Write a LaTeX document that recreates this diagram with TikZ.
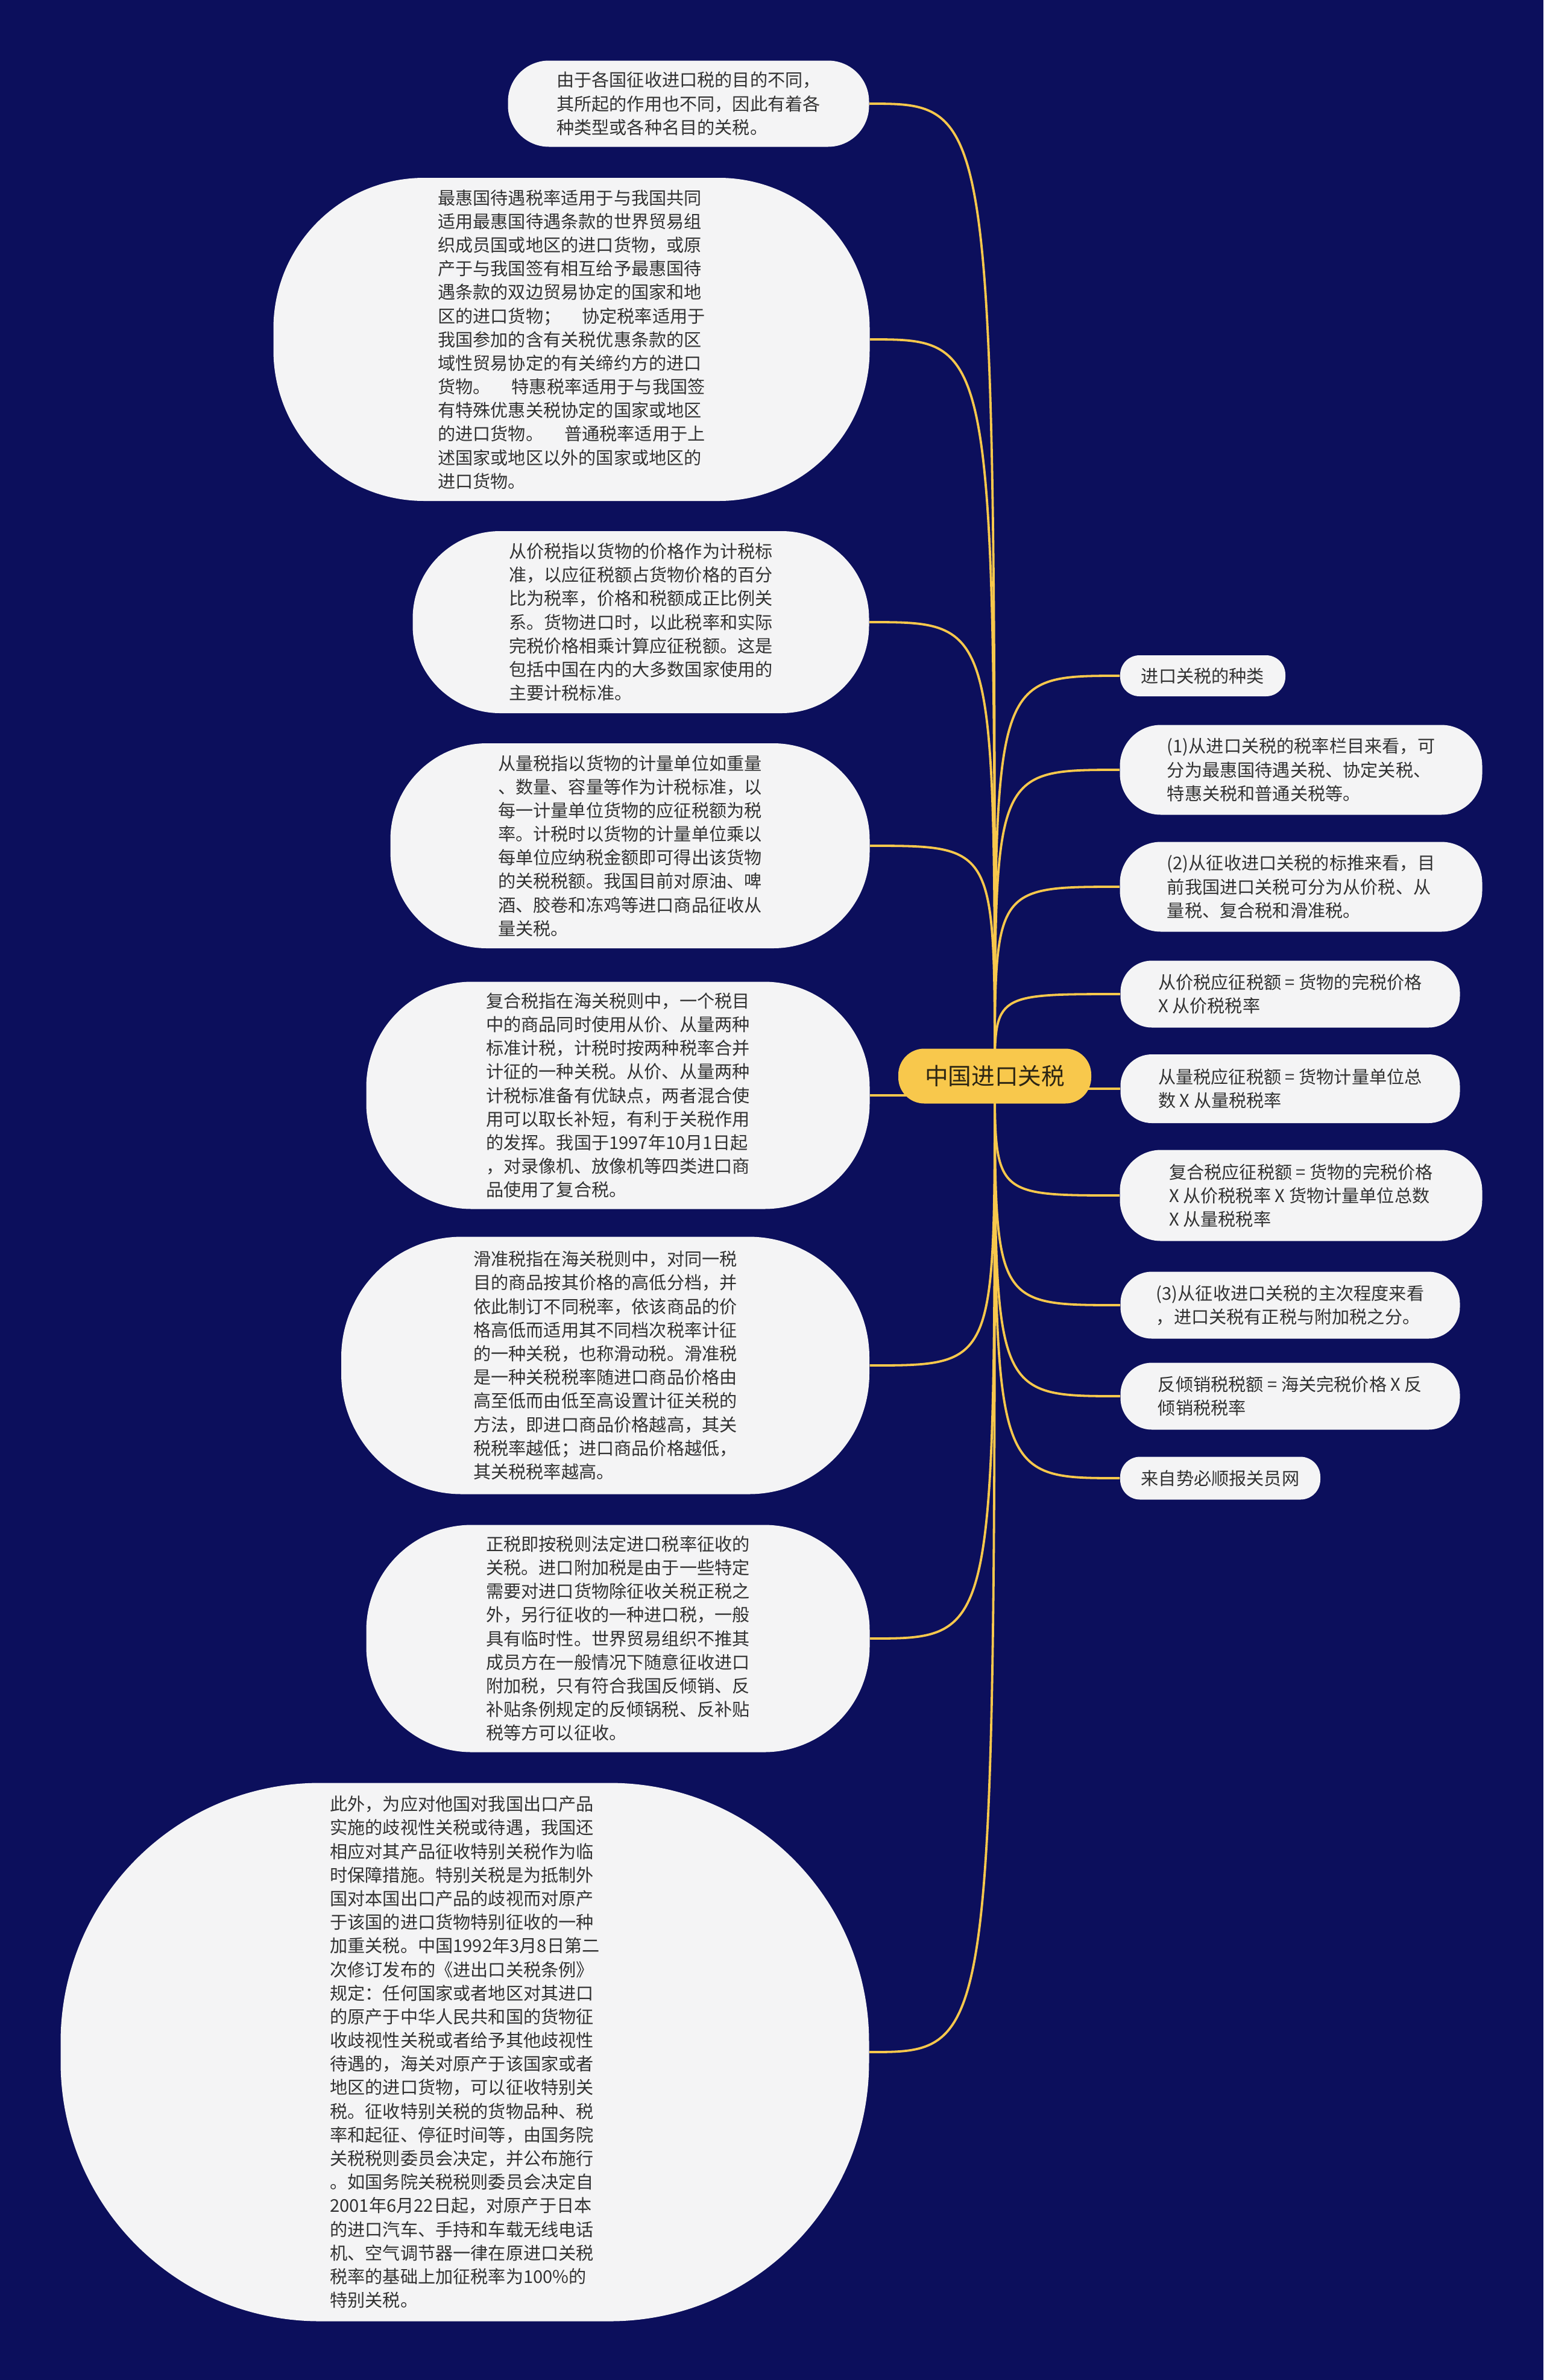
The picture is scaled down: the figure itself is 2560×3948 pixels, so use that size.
\documentclass[tikz,border=0pt]{standalone}
\usepackage{fontspec}
\setmainfont{Noto Sans CJK SC}
\pgfdeclarelayer{bg}
\pgfsetlayers{bg,main}
\definecolor{navy}{RGB}{12,15,92}
\definecolor{paper}{RGB}{244,244,245}
\definecolor{gold}{RGB}{248,200,76}
\definecolor{ink}{RGB}{50,50,50}
\definecolor{rootink}{RGB}{45,38,20}

\begin{document}
\begin{tikzpicture}[x=0.1mm, y=-0.1mm,
    note/.style={fill=paper, text=ink, align=left, inner sep=0pt,
        font=\fontsize{8.3pt}{11.15pt}\selectfont},
    rootbox/.style={fill=gold, text=rootink, inner sep=0pt,
        minimum width=32mm, minimum height=9.1mm, rounded corners=4.3mm,
        font=\fontsize{11pt}{13pt}\selectfont},
    branch/.style={draw=gold, line width=0.38mm,
        to path={.. controls (\tikztostart |- \tikztotarget) .. (\tikztotarget)}}]
    \useasboundingbox (0,0) rectangle (2560,3948);

    \node[rootbox] (root) at (1650,1785) {中国进口关税};

    % left side
    \node[note, minimum width=59.9mm, minimum height=14.3mm, rounded corners=6.8mm]
        (reason) at (1142,172) {由于各国征收进口税的目的不同，\\
        其所起的作用也不同，因此有着各\\
        种类型或各种名目的关税。};
    \node[note, minimum width=98.9mm, minimum height=53.6mm, rounded corners=25mm]
        (rates) at (948,563) {最惠国待遇税率适用于与我国共同\\
        适用最惠国待遇条款的世界贸易组\\
        织成员国或地区的进口货物，或原\\
        产于与我国签有相互给予最惠国待\\
        遇条款的双边贸易协定的国家和地\\
        区的进口货物；\hspace{1.2em}协定税率适用于\\
        我国参加的含有关税优惠条款的区\\
        域性贸易协定的有关缔约方的进口\\
        货物。\hspace{1.2em}特惠税率适用于与我国签\\
        有特殊优惠关税协定的国家或地区\\
        的进口货物。\hspace{1.2em}普通税率适用于上\\
        述国家或地区以外的国家或地区的\\
        进口货物。};
    \node[note, minimum width=75.7mm, minimum height=30.2mm, rounded corners=14.5mm]
        (advalorem) at (1063,1032) {从价税指以货物的价格作为计税标\\
        准，以应征税额占货物价格的百分\\
        比为税率，价格和税额成正比例关\\
        系。货物进口时，以此税率和实际\\
        完税价格相乘计算应征税额。这是\\
        包括中国在内的大多数国家使用的\\
        主要计税标准。};
    \node[note, minimum width=79.5mm, minimum height=34mm, rounded corners=16mm]
        (specific) at (1045,1403) {从量税指以货物的计量单位如重量\\
        、数量、容量等作为计税标准，以\\
        每一计量单位货物的应征税额为税\\
        率。计税时以货物的计量单位乘以\\
        每单位应纳税金额即可得出该货物\\
        的关税税额。我国目前对原油、啤\\
        酒、胶卷和冻鸡等进口商品征收从\\
        量关税。};
    \node[note, minimum width=83.5mm, minimum height=37.7mm, rounded corners=17.5mm]
        (compound) at (1025,1817) {复合税指在海关税则中，一个税目\\
        中的商品同时使用从价、从量两种\\
        标准计税，计税时按两种税率合并\\
        计征的一种关税。从价、从量两种\\
        计税标准备有优缺点，两者混合使\\
        用可以取长补短，有利于关税作用\\
        的发挥。我国于1997年10月1日起\\
        ，对录像机、放像机等四类进口商\\
        品使用了复合税。};
    \node[note, minimum width=87.6mm, minimum height=42.7mm, rounded corners=20mm]
        (sliding) at (1004,2265) {滑准税指在海关税则中，对同一税\\
        目的商品按其价格的高低分档，并\\
        依此制订不同税率，依该商品的价\\
        格高低而适用其不同档次税率计征\\
        的一种关税，也称滑动税。滑准税\\
        是一种关税税率随进口商品价格由\\
        高至低而由低至高设置计征关税的\\
        方法，即进口商品价格越高，其关\\
        税税率越低；进口商品价格越低，\\
        其关税税率越高。};
    \node[note, minimum width=83.5mm, minimum height=37.7mm, rounded corners=17.5mm]
        (surcharge) at (1025,2718) {正税即按税则法定进口税率征收的\\
        关税。进口附加税是由于一些特定\\
        需要对进口货物除征收关税正税之\\
        外，另行征收的一种进口税，一般\\
        具有临时性。世界贸易组织不推其\\
        成员方在一般情况下随意征收进口\\
        附加税，只有符合我国反倾销、反\\
        补贴条例规定的反倾锅税、反补贴\\
        税等方可以征收。};
    \node[note, minimum width=134.1mm, minimum height=89.3mm, rounded corners=43mm]
        (special) at (771,3404) {此外，为应对他国对我国出口产品\\
        实施的歧视性关税或待遇，我国还\\
        相应对其产品征收特别关税作为临\\
        时保障措施。特别关税是为抵制外\\
        国对本国出口产品的歧视而对原产\\
        于该国的进口货物特别征收的一种\\
        加重关税。中国1992年3月8日第二\\
        次修订发布的《进出口关税条例》\\
        规定：任何国家或者地区对其进口\\
        的原产于中华人民共和国的货物征\\
        收歧视性关税或者给予其他歧视性\\
        待遇的，海关对原产于该国家或者\\
        地区的进口货物，可以征收特别关\\
        税。征收特别关税的货物品种、税\\
        率和起征、停征时间等，由国务院\\
        关税税则委员会决定，并公布施行\\
        。如国务院关税税则委员会决定自\\
        2001年6月22日起，对原产于日本\\
        的进口汽车、手持和车载无线电话\\
        机、空气调节器一律在原进口关税\\
        税率的基础上加征税率为100\%的\\
        特别关税。};

    % right side
    \node[note, minimum width=27.4mm, minimum height=6.8mm, rounded corners=3.2mm]
        (kinds) at (1995,1121) {进口关税的种类};
    \node[note, minimum width=60.1mm, minimum height=14.9mm, rounded corners=6.8mm]
        (byrate) at (2158,1277) {(1)从进口关税的税率栏目来看，可\\
        分为最惠国待遇关税、协定关税、\\
        特惠关税和普通关税等。};
    \node[note, minimum width=60.1mm, minimum height=14.9mm, rounded corners=6.8mm]
        (bybasis) at (2158,1471) {(2)从征收进口关税的标推来看，目\\
        前我国进口关税可分为从价税、从\\
        量税、复合税和滑准税。};
    \node[note, minimum width=56.3mm, minimum height=11.1mm, rounded corners=5.2mm]
        (advformula) at (2140,1649) {从价税应征税额 = 货物的完税价格\\
        X 从价税税率};
    \node[note, minimum width=56.3mm, minimum height=11.4mm, rounded corners=5.2mm]
        (specformula) at (2140,1806) {从量税应征税额 = 货物计量单位总\\
        数 X 从量税税率};
    \node[note, minimum width=60.1mm, minimum height=15.1mm, rounded corners=6.8mm]
        (compformula) at (2158,1983) {复合税应征税额 = 货物的完税价格\\
        X 从价税税率 X 货物计量单位总数\\
        X 从量税税率};
    \node[note, minimum width=56.3mm, minimum height=11.1mm, rounded corners=5.2mm]
        (byrank) at (2140,2165) {(3)从征收进口关税的主次程度来看\\
        ，进口关税有正税与附加税之分。};
    \node[note, minimum width=56.3mm, minimum height=11.1mm, rounded corners=5.2mm]
        (dumpformula) at (2140,2316) {反倾销税税额 = 海关完税价格 X 反\\
        倾销税税率};
    \node[note, minimum width=33.2mm, minimum height=7.1mm, rounded corners=3.3mm]
        (source) at (2024,2452) {来自势必顺报关员网};

    \begin{pgfonlayer}{bg}
        \fill[navy] (0,0) rectangle (2560,3948);
        \draw[branch] (root.center) to (reason.east);
        \draw[branch] (root.center) to (rates.east);
        \draw[branch] (root.center) to (advalorem.east);
        \draw[branch] (root.center) to (specific.east);
        \draw[branch] (root.center) to (compound.east);
        \draw[branch] (root.center) to (sliding.east);
        \draw[branch] (root.center) to (surcharge.east);
        \draw[branch] (root.center) to (special.east);
        \draw[branch] (root.center) to (kinds.west);
        \draw[branch] (root.center) to (byrate.west);
        \draw[branch] (root.center) to (bybasis.west);
        \draw[branch] (root.center) to (advformula.west);
        \draw[branch] (root.center) to (specformula.west);
        \draw[branch] (root.center) to (compformula.west);
        \draw[branch] (root.center) to (byrank.west);
        \draw[branch] (root.center) to (dumpformula.west);
        \draw[branch] (root.center) to (source.west);
    \end{pgfonlayer}
\end{tikzpicture}
\end{document}
